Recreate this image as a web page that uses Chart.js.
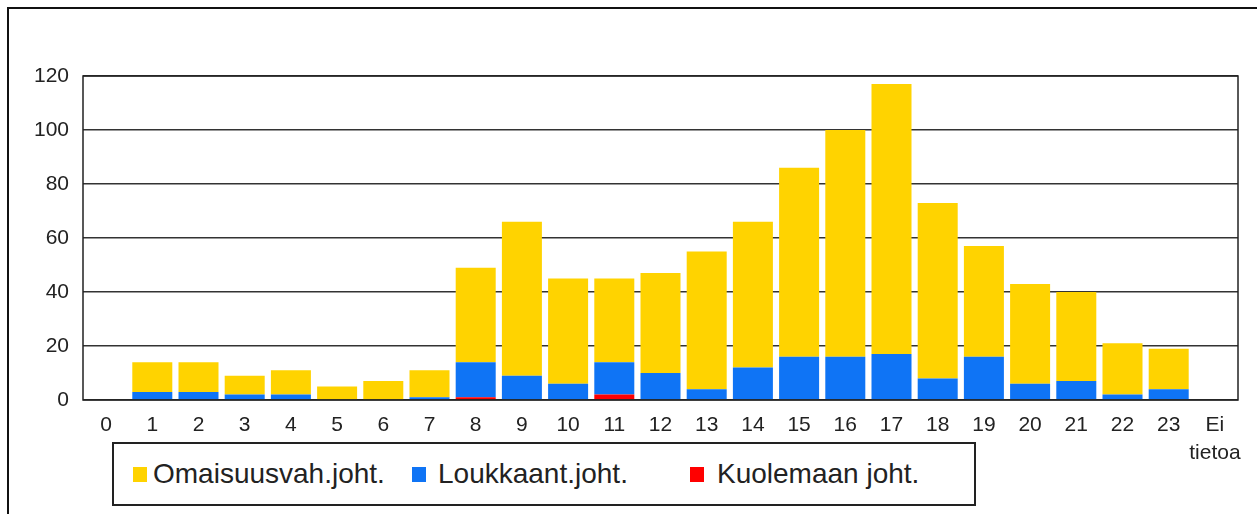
<!DOCTYPE html>
<html>
<head>
<meta charset="utf-8">
<script src="https://cdn.jsdelivr.net/npm/chart.js@4.4.0/dist/chart.umd.min.js"></script>
<style>
  body { margin: 0; background: #fff; font-family: "Liberation Sans", Arial, sans-serif; }
  #wrap { position: relative; width: 1257px; height: 514px; overflow: hidden; }
  #frame { position: absolute; left: 7px; top: 7px; right: -10px; bottom: -10px;
           border-left: 2px solid #111; border-top: 2px solid #111; pointer-events: none; }
  #legend { position: absolute; left: 112px; top: 442px; width: 864px; height: 64px;
            box-sizing: border-box; border: 2px solid #222; background: #fff; }
  .sw { position: absolute; width: 14px; height: 15px; top: 23px; }
  .lt { position: absolute; top: 13px; font-size: 28px; line-height: 34px; color: #222; white-space: nowrap; }
</style>
</head>
<body>
<div id="wrap">
  <canvas id="chart" width="1257" height="514"></canvas>
  <div id="frame"></div>
  <div id="legend"></div>
</div>
<script>
// ===== Data =====
const hours = ["0", "1", "2", "3", "4", "5", "6", "7", "8", "9", "10", "11",
  "12", "13", "14", "15", "16", "17", "18", "19", "20", "21", "22", "23", ["Ei", "tietoa"]];

// omaisuusvahinkoon johtaneet
const omaisuus = [0, 11, 11, 7, 9, 5, 7, 10, 35, 57, 39, 31, 37, 51, 54, 70, 84, 100, 65, 41, 37, 33, 19, 15, 0];
// loukkaantumiseen johtaneet
const loukkaant = [0, 3, 3, 2, 2, 0, 0, 1, 13, 9, 6, 12, 10, 4, 12, 16, 16, 17, 8, 16, 6, 7, 2, 4, 0];
// kuolemaan johtaneet
const kuolema = [0, 0, 0, 0, 0, 0, 0, 0, 1, 0, 0, 2, 0, 0, 0, 0, 0, 0, 0, 0, 0, 0, 0, 0, 0];

const yTicks = [0, 20, 40, 60, 80, 100, 120];

const seriesNames = ["Omaisuusvah.joht.", "Loukkaant.joht.", "Kuolemaan joht."];
const colors = { omaisuus: "#ffd300", loukkaant: "#0f74f5", kuolema: "#ff0000" };

// ===== Legend (box under the chart) =====
const legendEl = document.getElementById("legend");
const legendItems = [
  { name: seriesNames[0], color: colors.omaisuus, sx: 19, tx: 39 },
  { name: seriesNames[1], color: colors.loukkaant, sx: 298, tx: 324 },
  { name: seriesNames[2], color: colors.kuolema, sx: 576, tx: 603 }
];
legendItems.forEach(it => {
  const sw = document.createElement("span");
  sw.className = "sw";
  sw.style.left = it.sx + "px";
  sw.style.background = it.color;
  const t = document.createElement("span");
  t.className = "lt";
  t.style.left = it.tx + "px";
  t.textContent = it.name;
  legendEl.appendChild(sw);
  legendEl.appendChild(t);
});

// ===== Plot frame =====
const framePlugin = {
  id: "plotFrame",
  afterDatasetsDraw(chart) {
    const { ctx, chartArea: a } = chart;
    ctx.save();
    ctx.strokeStyle = "#222";
    ctx.lineWidth = 1.5;
    ctx.strokeRect(a.left, a.top, a.right - a.left, a.bottom - a.top);
    ctx.restore();
  }
};

const tickFont = { family: "'Liberation Sans', Arial, sans-serif", size: 21, lineHeight: 1.3 };

new Chart(document.getElementById("chart").getContext("2d"), {
  type: "bar",
  data: {
    labels: hours,
    datasets: [
      { label: seriesNames[2], data: kuolema, backgroundColor: colors.kuolema },
      { label: seriesNames[1], data: loukkaant, backgroundColor: colors.loukkaant },
      { label: seriesNames[0], data: omaisuus, backgroundColor: colors.omaisuus }
    ]
  },
  options: {
    responsive: false,
    animation: false,
    layout: { padding: { top: 76, right: 19, left: 0, bottom: 0 } },
    datasets: { bar: { barPercentage: 0.866, categoryPercentage: 1, borderWidth: 0 } },
    plugins: { legend: { display: false }, tooltip: { enabled: false } },
    scales: {
      x: {
        stacked: true,
        grid: { display: false, drawTicks: false },
        border: { display: false },
        ticks: { color: "#222", font: tickFont, padding: 12, maxRotation: 0, autoSkip: false },
        afterFit: s => { s.height = 114; }
      },
      y: {
        stacked: true,
        min: 0,
        max: 120,
        afterBuildTicks: s => { s.ticks = yTicks.map(v => ({ value: v })); },
        grid: { color: "#333", lineWidth: 1.5, drawTicks: false },
        border: { display: false },
        ticks: { color: "#222", font: tickFont, padding: 14 },
        afterFit: s => { s.width = 83; }
      }
    }
  },
  plugins: [framePlugin]
});
</script>
</body>
</html>
